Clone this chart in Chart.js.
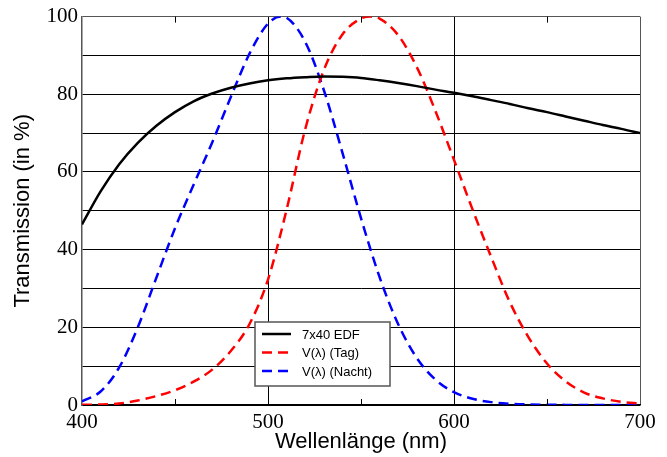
<!DOCTYPE html>
<html>
<head>
<meta charset="utf-8">
<script src="https://cdn.jsdelivr.net/npm/chart.js@4/dist/chart.umd.min.js"></script>
<style>
    html, body { margin: 0; padding: 0; background: #fff; }
    #wrap { width: 667px; height: 457px; }
</style>
</head>
<body>
<div id="wrap"><canvas id="canvas"></canvas></div>
<script>
var wellenlaenge = [400, 410, 420, 430, 440, 450, 460, 470, 480, 490, 500, 510, 520, 530, 540, 550, 560, 570, 580, 590, 600, 610, 620, 630, 640, 650, 660, 670, 680, 690, 700];
var edf = [46.5, 55.0, 62.0, 67.5, 71.9, 75.4, 78.2, 80.2, 81.7, 82.8, 83.6, 84.1, 84.4, 84.6, 84.5, 84.2, 83.6, 82.9, 82.1, 81.2, 80.4, 79.5, 78.5, 77.5, 76.4, 75.4, 74.3, 73.2, 72.1, 71.1, 70.0];

var tagX = [400, 410, 420, 430, 440, 450, 460, 470, 480, 490, 500, 510, 520, 530, 540, 550, 555, 560, 570, 580, 590, 600, 610, 620, 630, 640, 650, 660, 670, 680, 690, 700];
var tag = [0.04, 0.12, 0.4, 1.16, 2.3, 3.8, 6.0, 9.1, 13.9, 20.8, 32.3, 50.3, 71.0, 86.2, 95.4, 99.5, 100, 99.5, 95.2, 87.0, 75.7, 63.1, 50.3, 38.1, 26.5, 17.5, 10.7, 6.1, 3.2, 1.7, 0.82, 0.41];

var nachtX = [400, 410, 420, 430, 440, 450, 460, 470, 480, 490, 500, 507, 510, 520, 530, 540, 550, 560, 570, 580, 590, 600, 610, 620, 630, 640, 650, 660, 670, 680, 690, 700];
var nacht = [0.93, 3.48, 9.66, 20.0, 32.8, 45.5, 56.7, 67.6, 79.3, 90.4, 98.2, 100, 99.7, 93.5, 81.1, 65.0, 48.1, 32.9, 20.8, 12.1, 6.55, 3.3, 1.6, 0.74, 0.33, 0.15, 0.07, 0.03, 0.01, 0.01, 0, 0];

var xLabels = [400, 500, 600, 700];
var yLabels = [0, 20, 40, 60, 80, 100];
var minorTicks = [450, 550, 650];

function toPoints(xs, ys) {
    var pts = [];
    for (var i = 0; i < xs.length; i++) {
        pts.push({ x: xs[i], y: ys[i] });
    }
    return pts;
}

// legend box inside the plot, drawn from the datasets
var boxLegend = {
    id: 'boxLegend',
    afterDraw: function (chart) {
        var ctx = chart.ctx;
        var sets = chart.data.datasets;
        var left = 255, top = 322, w = 135, h = 64;
        ctx.save();
        ctx.fillStyle = '#fff';
        ctx.fillRect(left, top, w, h);
        ctx.strokeStyle = '#555';
        ctx.lineWidth = 1.5;
        ctx.strokeRect(left, top, w, h);
        ctx.font = '13px "Liberation Sans", Arial, sans-serif';
        ctx.textBaseline = 'middle';
        for (var i = 0; i < sets.length; i++) {
            var y = top + 12 + i * 18.5;
            ctx.beginPath();
            ctx.strokeStyle = sets[i].borderColor;
            ctx.lineWidth = 2.5;
            ctx.setLineDash(sets[i].borderDash || []);
            ctx.moveTo(262, y);
            ctx.lineTo(291, y);
            ctx.stroke();
            ctx.setLineDash([]);
            ctx.fillStyle = '#000';
            ctx.fillText(sets[i].label, 302, y + 1);
        }
        ctx.restore();
    }
};

// small inside ticks at 450/550/650 top and bottom
var minorTickMarks = {
    id: 'minorTickMarks',
    afterDatasetsDraw: function (chart) {
        var ctx = chart.ctx;
        var area = chart.chartArea;
        var xs = chart.scales.x;
        ctx.save();
        ctx.strokeStyle = '#000';
        ctx.lineWidth = 1;
        for (var i = 0; i < minorTicks.length; i++) {
            var px = Math.round(xs.getPixelForValue(minorTicks[i])) + 0.5;
            ctx.beginPath();
            ctx.moveTo(px, area.bottom);
            ctx.lineTo(px, area.bottom - 6);
            ctx.moveTo(px, area.top);
            ctx.lineTo(px, area.top + 6);
            ctx.stroke();
        }
        ctx.restore();
    }
};

var ctx = document.getElementById('canvas').getContext('2d');

var myChart = new Chart(ctx, {
    type: 'line',
    data: {
        datasets: [{
            label: '7x40 EDF',
            data: toPoints(wellenlaenge, edf),
            borderColor: '#000',
            borderWidth: 2.5,
            pointRadius: 0,
            cubicInterpolationMode: 'monotone',
            fill: false
        }, {
            label: 'V(λ) (Tag)',
            data: toPoints(tagX, tag),
            borderColor: '#f00',
            borderWidth: 2.5,
            borderDash: [10, 6],
            pointRadius: 0,
            cubicInterpolationMode: 'monotone',
            fill: false
        }, {
            label: 'V(λ) (Nacht)',
            data: toPoints(nachtX, nacht),
            borderColor: '#00f',
            borderWidth: 2.5,
            borderDash: [10, 6],
            pointRadius: 0,
            cubicInterpolationMode: 'monotone',
            fill: false
        }]
    },
    options: {
        responsive: true,
        maintainAspectRatio: false,
        animation: false,
        layout: { padding: { top: 16, right: 27, left: 0, bottom: 0 } },
        plugins: {
            legend: { display: false },
            tooltip: { enabled: false }
        },
        scales: {
            x: {
                type: 'linear',
                min: 400,
                max: 700,
                afterFit: function (scale) { scale.height = 52; },
                afterBuildTicks: function (scale) {
                    scale.ticks = [400, 450, 500, 550, 600, 650, 700].map(function (v) { return { value: v }; });
                },
                ticks: {
                    padding: 5,
                    maxRotation: 0,
                    autoSkip: false,
                    color: '#000',
                    font: { family: '"Liberation Serif", "Times New Roman", serif', size: 21 },
                    callback: function (v) { return xLabels.indexOf(v) >= 0 ? String(v) : ''; }
                },
                grid: {
                    drawTicks: false,
                    lineWidth: 1,
                    color: function (c) {
                        var v = c.tick ? c.tick.value : null;
                        if (v === 500 || v === 600) return '#000';
                        if (v === 700) return '#555';
                        return 'rgba(0,0,0,0)';
                    }
                },
                border: { color: '#000', width: 1.5 },
                title: {
                    display: true,
                    text: 'Wellenlänge (nm)',
                    color: '#000',
                    font: { family: '"Liberation Sans", Arial, sans-serif', size: 22 },
                    padding: { top: 0, bottom: 2 }
                }
            },
            y: {
                min: 0,
                max: 100,
                afterFit: function (scale) { scale.width = 82; },
                ticks: {
                    stepSize: 10,
                    padding: 4,
                    color: '#000',
                    font: { family: '"Liberation Serif", "Times New Roman", serif', size: 21 },
                    callback: function (v) { return yLabels.indexOf(v) >= 0 ? String(v) : ''; }
                },
                grid: {
                    drawTicks: false,
                    lineWidth: 1,
                    color: function (c) {
                        var v = c.tick ? c.tick.value : null;
                        if (v === 100) return '#555';
                        return '#000';
                    }
                },
                border: { color: '#555', width: 1.5 },
                title: {
                    display: true,
                    text: 'Transmission (in %)',
                    color: '#000',
                    font: { family: '"Liberation Sans", Arial, sans-serif', size: 22 },
                    padding: { top: 10, bottom: 0 }
                }
            }
        }
    },
    plugins: [minorTickMarks, boxLegend]
});
</script>
</body>
</html>
